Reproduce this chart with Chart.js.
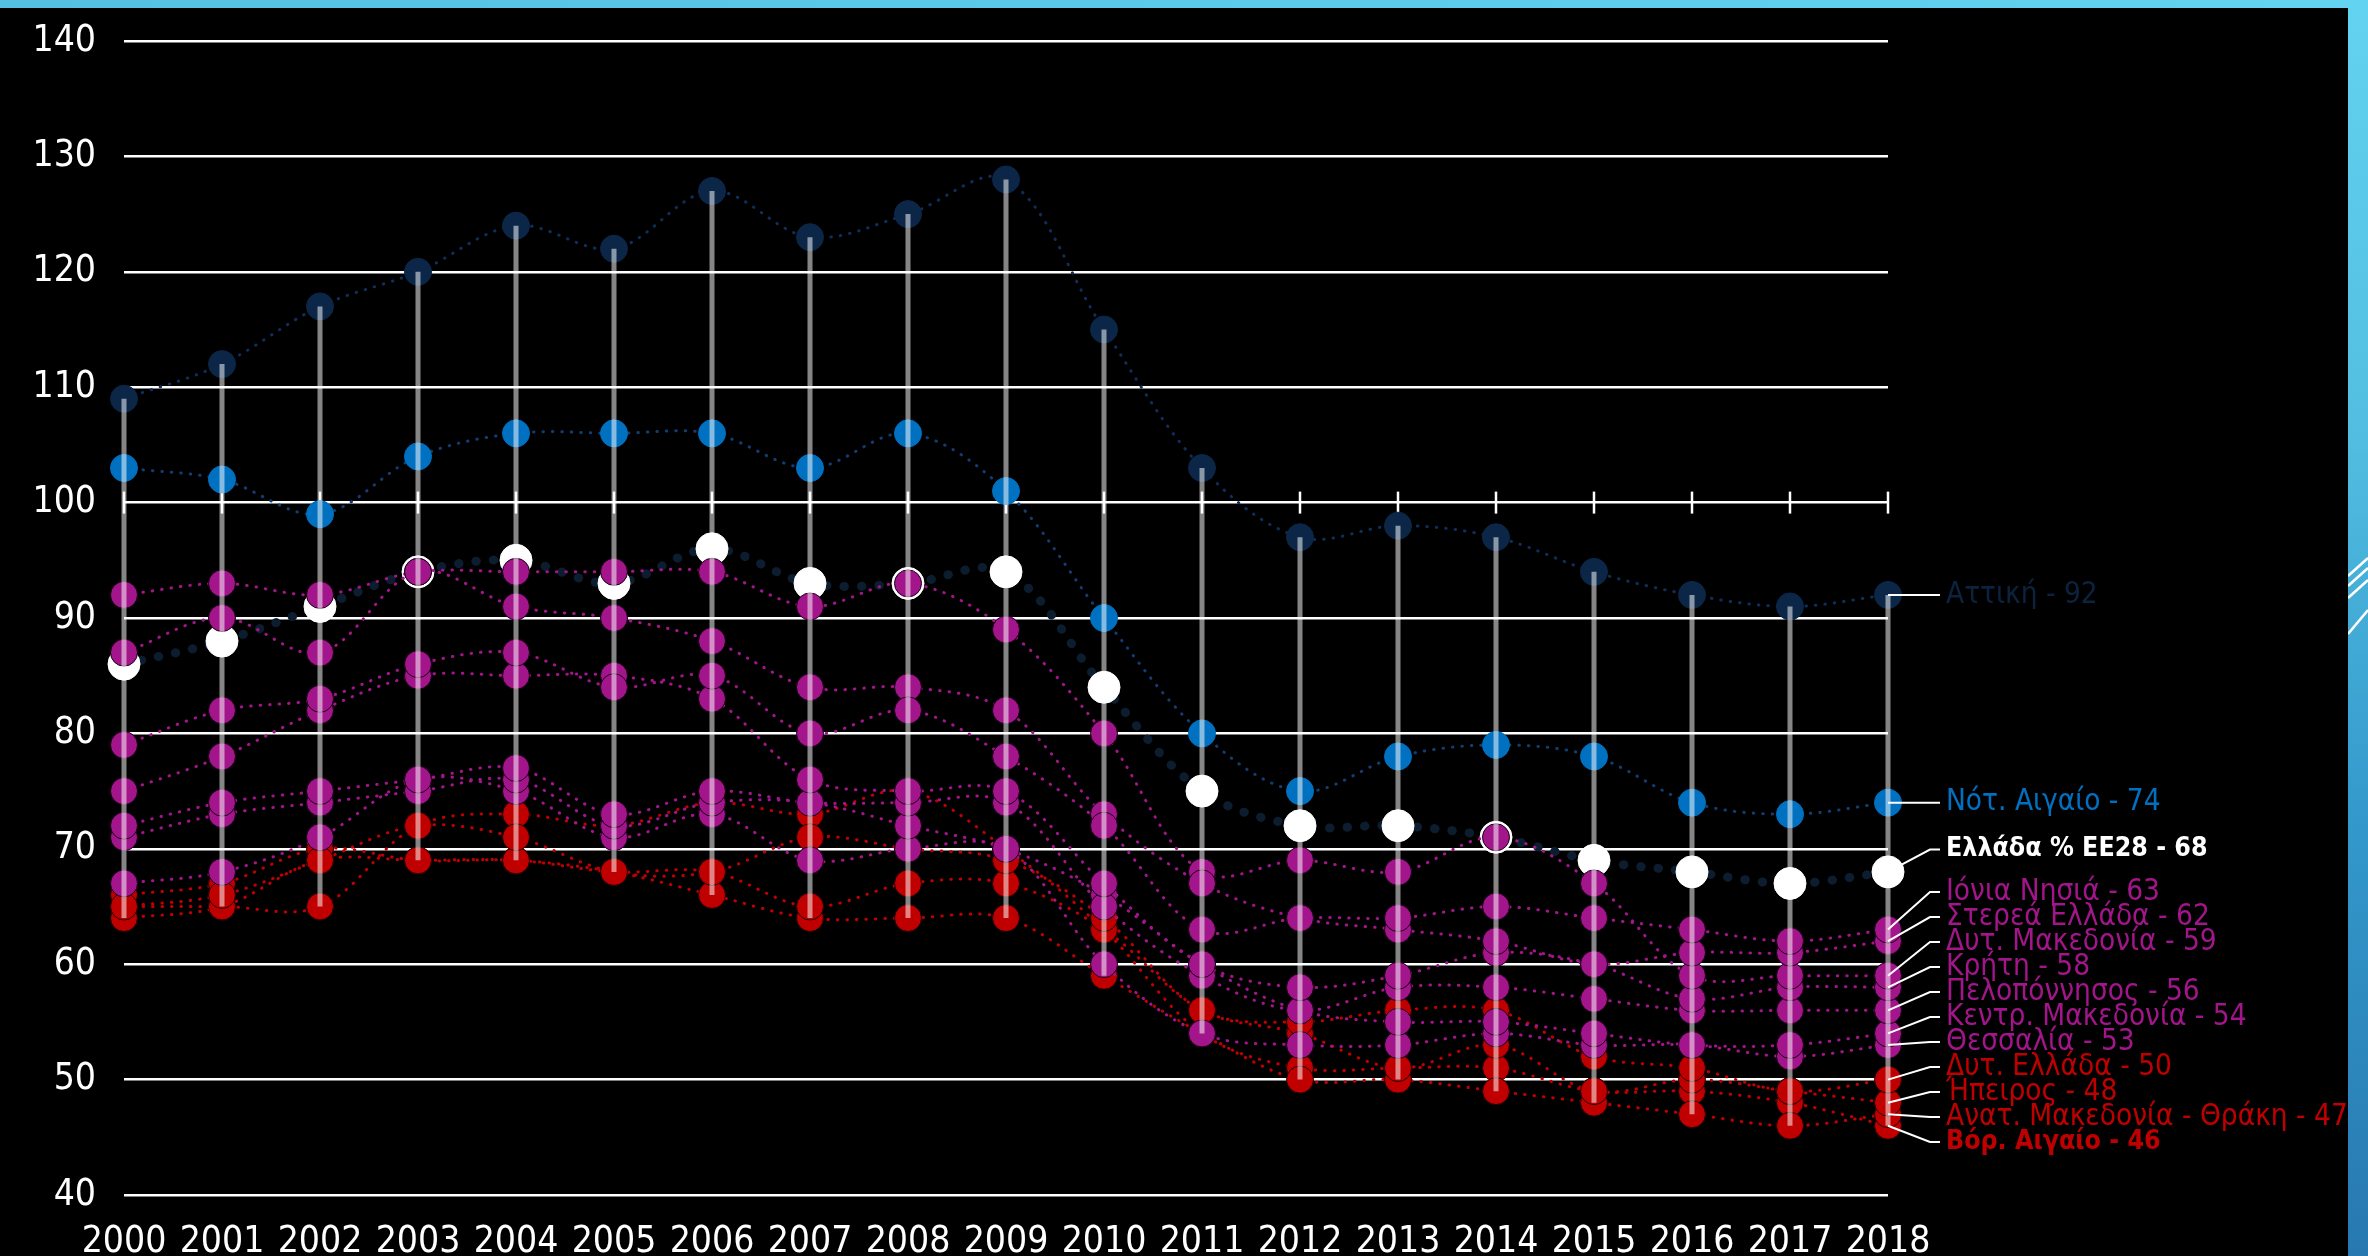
<!DOCTYPE html>
<html><head><meta charset="utf-8">
<script src="https://cdn.jsdelivr.net/npm/chart.js@4.4.1/dist/chart.umd.min.js"></script>
<style>
html,body{margin:0;padding:0;background:#000;overflow:hidden;}
#wrap{position:relative;width:2368px;height:1256px;background:#000;}
#c{position:absolute;left:0;top:0;}
#topband{position:absolute;left:0;top:0;width:2368px;height:8px;background:linear-gradient(90deg,#55c1e2,#63d3f0);}
#rightband{position:absolute;left:2348px;top:0;width:20px;height:1256px;background:linear-gradient(180deg,#62d3f0 0%,#52bde0 35%,#3399cc 65%,#2778b0 100%);}
</style></head>
<body><div id="wrap"><canvas id="c" width="2368" height="1256"></canvas><div id="topband"></div>
<div id="rightband"><svg width="20" height="1256" style="position:absolute;left:0;top:0">
<g stroke="#fff" stroke-width="2.5" fill="none">
<line x1="0" y1="576" x2="20" y2="558"/><line x1="0" y1="586" x2="20" y2="568"/><line x1="0" y1="598" x2="20" y2="580"/><line x1="0" y1="634" x2="20" y2="610"/>
</g></svg></div></div>
<script>
const years = ['2000','2001','2002','2003','2004','2005','2006','2007','2008','2009','2010','2011','2012','2013','2014','2015','2016','2017','2018'];

const attiki     = [109,112,117,120,124,122,127,123,125,128,115,103,97,98,97,94,92,91,92];
const notAigaio  = [103,102,99,104,106,106,106,103,106,101,90,80,75,78,79,78,74,73,74];
const ellada     = [86,88,91,94,95,93,96,93,93,94,84,75,72,72,71,69,68,67,68];
const ionia      = [79,82,83,86,87,84,85,80,82,78,72,63,64,64,65,64,63,62,63];
const sterea     = [87,90,87,94,91,90,88,84,84,82,73,67,64,63,62,60,61,61,62];
const dytMak     = [92,93,92,94,94,94,94,91,93,89,80,68,69,68,71,67,59,59,59];
const kriti      = [75,78,82,85,85,85,83,76,75,75,67,60,58,59,61,60,57,58,58];
const pelop      = [72,74,75,76,77,73,75,74,74,74,65,59,56,58,58,57,56,56,56];
const kentMak    = [71,73,74,75,76,72,74,74,72,70,66,60,56,55,55,54,53,53,54];
const thess      = [67,68,71,76,75,71,73,69,70,70,60,54,53,53,54,53,53,52,53];
const dytEllada  = [65,66,69,72,71,68,68,71,70,69,64,56,55,56,56,52,51,49,50];
const ipeiros    = [66,67,70,69,69,68,68,65,67,67,63,56,54,51,53,49,50,49,48];
const anMakThr   = [64,65,69,69,69,68,66,64,64,64,59,54,50,50,49,48,47,46,47];
const vorAigaio  = [65,65,65,72,73,72,74,73,75,70,63,54,51,51,51,49,49,48,46];

const yTicks = [40,50,60,70,80,90,100,110,120,130,140];

const series = [
  ['Ιόνια Νησιά', ionia, 'purple'],
  ['Στερεά Ελλάδα', sterea, 'purple'],
  ['Δυτ. Μακεδονία', dytMak, 'purple'],
  ['Κρήτη', kriti, 'purple'],
  ['Πελοπόννησος', pelop, 'purple'],
  ['Κεντρ. Μακεδονία', kentMak, 'purple'],
  ['Θεσσαλία', thess, 'purple'],
  ['Αττική', attiki, 'navy'],
  ['Νότ. Αιγαίο', notAigaio, 'blue'],
  ['Δυτ. Ελλάδα', dytEllada, 'red'],
  ['Ήπειρος', ipeiros, 'red'],
  ['Ανατ. Μακεδονία - Θράκη', anMakThr, 'red'],
  ['Βόρ. Αιγαίο', vorAigaio, 'redBold'],
  ['Ελλάδα % ΕΕ28', ellada, 'greece']
];

const styles = {
  purple: {line:'#a3158a', point:'#a3158a', pb:'#1a0016', r:13.5, label:'#a3158a', lh:25},
  red:    {line:'#c00000', point:'#c00000', pb:'#200000', r:13.5, label:'#c00000', lh:25},
  redBold:{line:'#c00000', point:'#c00000', pb:'#200000', r:13.5, label:'#c00000', bold:true, lh:25},
  navy:   {line:'#0e2f5c', point:'#0c2648', pb:'#0c2648', r:13.5, label:'#0c2340', lh:25},
  blue:   {line:'#123d72', point:'#0070c0', pb:'#0070c0', r:13.5, label:'#0070c0', lh:25},
  greece: {line:'#0c1d30', point:'#ffffff', pb:'#ffffff', r:16, label:'#ffffff', bold:true, big:true, lh:60}
};

const FONT = '"DejaVu Sans Condensed", "DejaVu Sans", sans-serif';

const datasets = series.map(([name, vals, kind]) => {
  const s = styles[kind];
  return {
    label: name,
    data: vals,
    borderColor: s.line,
    backgroundColor: s.point,
    pointBackgroundColor: s.point,
    pointBorderColor: s.pb,
    pointBorderWidth: 1,
    pointRadius: s.r,
    pointHoverRadius: s.r,
    borderWidth: s.big ? 9 : 3,
    borderDash: s.big ? [0.5, 17] : [0.5, 9],
    borderCapStyle: 'round',
    tension: 0.35,
    fill: false,
    _labelColor: s.label,
    _labelBold: !!s.bold,
    _labelH: s.lh
  };
});

const hiLoPlugin = {
  id: 'hiLo',
  afterDatasetsDraw(chart) {
    const ctx = chart.ctx, ys = chart.scales.y, xs = chart.scales.x;
    ctx.save();
    ctx.strokeStyle = 'rgba(255,255,255,0.52)';
    ctx.lineWidth = 5;
    years.forEach((yr, i) => {
      const vals = chart.data.datasets.map(d => d.data[i]);
      const hi = Math.max(...vals), lo = Math.min(...vals);
      const x = xs.getPixelForValue(i);
      ctx.beginPath();
      ctx.moveTo(x, ys.getPixelForValue(hi));
      ctx.lineTo(x, ys.getPixelForValue(lo));
      ctx.stroke();
    });
    ctx.restore();
  }
};

const crossTicks = {
  id: 'crossTicks',
  beforeDatasetsDraw(chart) {
    const ctx = chart.ctx, ys = chart.scales.y, xs = chart.scales.x;
    const y0 = ys.getPixelForValue(100);
    ctx.save();
    ctx.strokeStyle = '#ffffff';
    ctx.lineWidth = 2.5;
    years.forEach((yr, i) => {
      const x = xs.getPixelForValue(i);
      ctx.beginPath(); ctx.moveTo(x, y0 - 11); ctx.lineTo(x, y0 + 11); ctx.stroke();
    });
    ctx.restore();
  }
};

// 1-D label de-overlap: clusters of touching labels are centred on their points
function spreadLabels(items, lift) {
  let clusters = items.map(it => ({m: [it]}));
  const offsets = c => {
    const o = [0];
    for (let k = 1; k < c.m.length; k++) o.push(o[k - 1] + (c.m[k - 1].h + c.m[k].h) / 2);
    return o;
  };
  const place = c => {
    const o = offsets(c);
    const mean = c.m.reduce((s, it, k) => s + it.y - o[k], 0) / c.m.length;
    c.o = o;
    c.top = mean - (c.m.length > 1 ? lift : 0);
  };
  clusters.forEach(place);
  let changed = true;
  while (changed) {
    changed = false;
    for (let i = 0; i < clusters.length - 1; i++) {
      const a = clusters[i], b = clusters[i + 1];
      const aLast = a.m[a.m.length - 1];
      const need = (aLast.h + b.m[0].h) / 2;
      if (b.top - (a.top + a.o[a.o.length - 1]) < need) {
        a.m = a.m.concat(b.m); place(a); clusters.splice(i + 1, 1); changed = true; break;
      }
    }
  }
  clusters.forEach(c => c.m.forEach((it, k) => { it.ly = c.top + c.o[k]; }));
}

const endLabels = {
  id: 'endLabels',
  afterDatasetsDraw(chart) {
    const ctx = chart.ctx;
    const last = years.length - 1;
    const items = chart.data.datasets.map((ds, i) => {
      const p = chart.getDatasetMeta(i).data[last];
      return {ds, x: p.x, y: p.y, h: ds._labelH};
    }).sort((a, b) => a.y - b.y);
    spreadLabels(items, 15);
    items.forEach(it => {
      ctx.save();
      ctx.strokeStyle = '#ffffff';
      ctx.lineWidth = 2;
      ctx.beginPath();
      ctx.moveTo(it.x, it.y);
      ctx.lineTo(it.x + 42, it.ly);
      ctx.lineTo(it.x + 52, it.ly);
      ctx.stroke();
      ctx.font = (it.ds._labelBold ? 'bold 26.5px ' : '29.5px ') + FONT;
      ctx.fillStyle = it.ds._labelColor;
      ctx.textBaseline = 'middle';
      ctx.textAlign = 'left';
      ctx.fillText(it.ds.label + ' - ' + it.ds.data[last], it.x + 58, it.ly);
      ctx.restore();
    });
  }
};

new Chart(document.getElementById('c'), {
  type: 'line',
  data: {labels: years, datasets},
  options: {
    responsive: false,
    animation: false,
    devicePixelRatio: 1,
    layout: {padding: {left: 0, right: 480, top: 41, bottom: 0}},
    plugins: {legend: {display: false}, tooltip: {enabled: false}},
    scales: {
      x: {
        offset: false,
        grid: {display: false, drawTicks: false},
        border: {display: false},
        ticks: {color: '#ffffff', font: {family: FONT, size: 37}, padding: 25, maxRotation: 0, autoSkip: false},
        afterFit(s) { s.height = 61; }
      },
      y: {
        min: 40, max: 140,
        afterBuildTicks(s) { s.ticks = yTicks.map(v => ({value: v})); },
        grid: {color: '#ffffff', lineWidth: 2.5, drawTicks: false},
        border: {display: false},
        ticks: {color: '#ffffff', font: {family: FONT, size: 37}, padding: 28},
        afterFit(s) { s.width = 124; s.paddingTop = 0; s.paddingBottom = 0; }
      }
    }
  },
  plugins: [crossTicks, hiLoPlugin, endLabels]
});
</script>
</body></html>
